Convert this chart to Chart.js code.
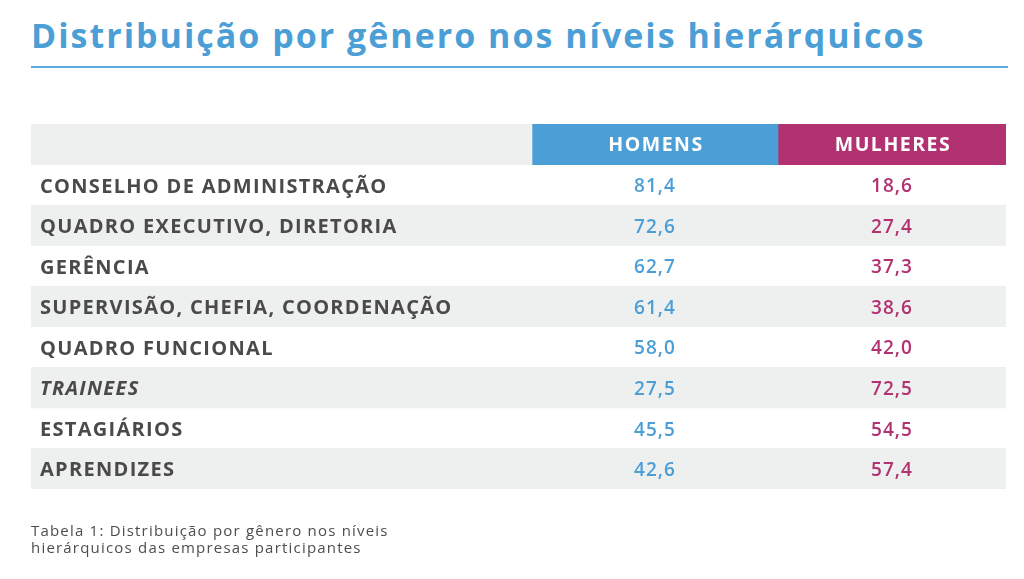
<!DOCTYPE html>
<html>
<head>
<meta charset="utf-8">
<script src="https://cdn.jsdelivr.net/npm/chart.js"></script>
<style>
  body { margin: 0; background: #fff; }
  #wrap { position: relative; width: 1024px; height: 579px; overflow: hidden; font-family: 'Open Sans', sans-serif; }
  h1 { position: absolute; left: 31px; top: 18px; margin: 0; font-size: 34px; line-height: 1; font-weight: 700; letter-spacing: 2px; color: #4b9fd6; white-space: nowrap; }
  .rule { position: absolute; left: 31px; top: 66px; width: 977px; height: 2px; background: #5aaae0; }
  .caption { position: absolute; left: 31px; top: 522px; font-size: 15px; line-height: 17px; letter-spacing: 1.2px; color: #4d4d4d; }
  canvas { position: absolute; left: 0; top: 0; }
</style>
</head>
<body>
<div id="wrap">
  <h1>Distribuição por gênero nos níveis hierárquicos</h1>
  <div class="rule"></div>
  <canvas id="tableChart" width="1024" height="579"></canvas>
  <div class="caption">Tabela 1: Distribuição por gênero nos níveis<br>hierárquicos das empresas participantes</div>
</div>
<script>
// table content
const rowLabels = ['CONSELHO DE ADMINISTRAÇÃO', 'QUADRO EXECUTIVO, DIRETORIA', 'GERÊNCIA',
  'SUPERVISÃO, CHEFIA, COORDENAÇÃO', 'QUADRO FUNCIONAL', 'TRAINEES', 'ESTAGIÁRIOS', 'APRENDIZES'];
const columnHeaders = ['HOMENS', 'MULHERES'];
const homens = [81.4, 72.6, 62.7, 61.4, 58.0, 27.5, 45.5, 42.6];
const mulheres = [18.6, 27.4, 37.3, 38.6, 42.0, 72.5, 54.5, 57.4];
const italicRows = ['TRAINEES'];

// layout (x units = px inside the table)
const colEdges = [0, 501, 747, 975];
const BLUE = '#4b9fd6';
const PINK = '#b23170';
const GRAY = '#eeefef';
const FONT = "'Open Sans', sans-serif";

const categories = [''].concat(rowLabels);

function fmt(v) {
  return v.toFixed(1).replace('.', ',');
}

// wider tracking for the tick labels (the original uses a wide font)
const tracking = {
  id: 'tracking',
  beforeDraw(chart) {
    chart.ctx.letterSpacing = '1.3px';
  }
};

const cellText = {
  id: 'cellText',
  afterDatasetsDraw(chart) {
    const ctx = chart.ctx;
    ctx.save();
    ctx.textAlign = 'center';
    ctx.textBaseline = 'middle';
    [1, 2].forEach(di => {
      const meta = chart.getDatasetMeta(di);
      const values = di === 1 ? homens : mulheres;
      const color = di === 1 ? BLUE : PINK;
      meta.data.forEach((bar, i) => {
        const cx = (bar.x + bar.base) / 2;
        if (i === 0) {
          ctx.letterSpacing = '1.5px';
          ctx.fillStyle = '#ffffff';
          ctx.font = '700 19.5px ' + FONT;
          ctx.fillText(columnHeaders[di - 1], cx + 1, bar.y + 1);
        } else {
          ctx.letterSpacing = '1px';
          ctx.fillStyle = color;
          ctx.font = '600 19px ' + FONT;
          ctx.fillText(fmt(values[i - 1]), cx, bar.y + 2);
        }
      });
    });
    ctx.restore();
  }
};

new Chart(document.getElementById('tableChart'), {
  type: 'bar',
  data: {
    labels: categories,
    datasets: [{
      label: 'linhas',
      data: categories.map((c, i) => i === 0 ? [colEdges[0], colEdges[1]] : (i % 2 === 0 ? [colEdges[0], colEdges[3]] : null)),
      backgroundColor: GRAY
    }, {
      label: columnHeaders[0],
      data: categories.map(() => [colEdges[1], colEdges[2]]),
      backgroundColor: c => c.dataIndex === 0 ? BLUE : 'rgba(0,0,0,0)'
    }, {
      label: columnHeaders[1],
      data: categories.map(() => [colEdges[2], colEdges[3]]),
      backgroundColor: c => c.dataIndex === 0 ? PINK : 'rgba(0,0,0,0)'
    }]
  },
  options: {
    indexAxis: 'y',
    responsive: false,
    animation: false,
    devicePixelRatio: 1,
    layout: { padding: { left: 13, right: 18, top: 124, bottom: 90 } },
    datasets: {
      bar: { grouped: false, barPercentage: 1, categoryPercentage: 1, borderWidth: 0 }
    },
    scales: {
      x: { display: false, min: 0, max: colEdges[3] },
      y: {
        grid: { display: false, drawTicks: false },
        border: { display: false },
        ticks: {
          z: 1,
          autoSkip: false,
          mirror: true,
          padding: 9,
          labelOffset: 2,
          color: '#4a4a4a',
          font: c => ({
            family: FONT,
            size: 20,
            weight: '700',
            style: italicRows.includes(categories[c.index]) ? 'italic' : 'normal'
          })
        }
      }
    },
    plugins: {
      legend: { display: false },
      tooltip: { enabled: false }
    }
  },
  plugins: [tracking, cellText]
});
</script>
</body>
</html>
